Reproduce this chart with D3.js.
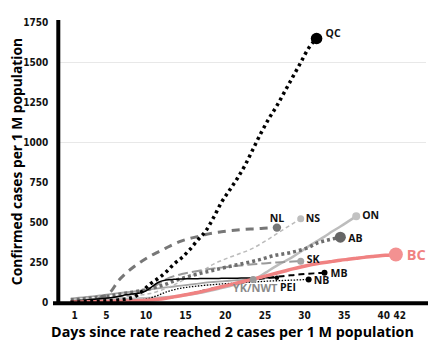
<!DOCTYPE html>
<html><head><meta charset="utf-8">
<script src="https://cdn.jsdelivr.net/npm/d3@7"></script>
<style>
html,body{margin:0;padding:0;background:#fff;}
svg{display:block;}
.tick text{font-family:"Liberation Sans Narrow","DejaVu Sans Condensed","Liberation Sans",sans-serif;font-weight:bold;font-size:10px;fill:#111;}
.lbl{font-family:"Open Sans","Noto Sans",sans-serif;font-weight:bold;}
</style></head>
<body>
<script>
// ---- data (values per day, index = day number starting at 0) ----
const xTicks = [1, 5, 10, 15, 20, 25, 30, 35, 40, 42];
const yTicks = [0, 250, 500, 750, 1000, 1250, 1500, 1750];
const gridValues = [1000, 1500];

const qc  = [2,3,5,7,9,12,16,22,35,70,115,150,190,240,280,330,390,445,530,625,700,775,860,960,1060,1150,1230,1320,1410,1500,1590,1650];
const nl  = [5,8,12,20,35,65,135,185,225,260,290,315,340,365,385,400,412,425,435,442,448,453,457,460,463,466,468];
const ns  = [10,13,16,20,24,28,32,37,42,48,56,70,88,110,135,160,185,210,240,262,282,300,318,340,368,398,430,462,493,523];
const on  = [8,10,12,14,16,18,20,22,24,26,28,30,33,37,43,50,58,67,78,90,102,115,128,142,168,200,230,258,285,318,352,382,412,445,475,507,539];
const ab  = [15,20,25,30,36,42,50,58,66,75,85,100,115,135,150,165,178,190,202,214,225,236,247,258,270,285,297,305,315,328,345,370,385,397,408];
const sk  = [10,14,18,22,27,32,38,45,55,68,85,115,145,165,178,188,197,205,212,218,224,229,234,239,243,247,250,253,256,258];
const bc  = [2,3,4,5,6,7,8,9,10,12,15,20,27,35,44,53,63,74,86,98,110,122,134,146,158,171,184,197,210,222,233,242,250,257,264,270,276,282,287,292,296,300];
const mb  = [2,3,4,5,6,7,8,9,10,12,15,20,27,35,44,54,65,77,89,100,110,120,130,140,148,155,161,166,171,176,180,183,186];
const nb  = [2,3,4,5,6,7,8,10,13,18,28,45,65,80,90,97,103,108,112,116,119,122,125,128,131,134,136,138,140,142,144];
const pei = [8,12,16,20,25,30,38,48,55,62,90,125,140,145,147,148,149,150,150,151,152,152,153,153,154,154,155];
const yk  = [25,30,35,40,46,52,58,64,70,76,82,88,94,100,106,112,118,124,128,132,136,139,142,144];

const provinces = ["ON","YK/NWT","NS","SK","NL","AB","PEI","NB","MB","BC","QC"];
const seriesValues = [on, yk, ns, sk, nl, ab, pei, nb, mb, bc, qc];

// ---- styles (kept apart from the data) ----
const styles = {
  "ON":     {stroke:"#bdbdbd", w:2.5, dash:null,      r:4,   fill:"#c2c2c2", lx:6,  ly:3,   size:10.5, color:"#111", anchor:"start"},
  "YK/NWT": {stroke:"#a5a5a5", w:1.8, dash:null,      r:3.5, fill:"#999",    lx:2,  ly:13,  size:11,   color:"#8a8a8a", anchor:"middle"},
  "NS":     {stroke:"#bbbbbb", w:1.5, dash:"4,3",     r:3.5, fill:"#bdbdbd", lx:5,  ly:3,   size:10.5, color:"#111", anchor:"start"},
  "SK":     {stroke:"#9a9a9a", w:2,   dash:"10,4",    r:3.5, fill:"#a5a5a5", lx:6,  ly:2,   size:10.5, color:"#111", anchor:"start"},
  "NL":     {stroke:"#777777", w:3,   dash:"8,6",     r:4.2, fill:"#777",    lx:0,  ly:-6,  size:10.5, color:"#111", anchor:"middle"},
  "AB":     {stroke:"#6e6e6e", w:3.5, dash:"3,3",     r:5.5, fill:"#666",    lx:8,  ly:4.5, size:10.5, color:"#111", anchor:"start"},
  "PEI":    {stroke:"#000000", w:1.5, dash:null,      r:2.2, fill:"#000",    lx:3,  ly:13,  size:10.5, color:"#111", anchor:"start"},
  "NB":     {stroke:"#000000", w:1.3, dash:"1.5,1.5", r:3,   fill:"#000",    lx:5,  ly:5,   size:10.5, color:"#111", anchor:"start"},
  "MB":     {stroke:"#000000", w:2,   dash:"6,4",     r:3,   fill:"#000",    lx:6,  ly:4,   size:10.5, color:"#111", anchor:"start"},
  "BC":     {stroke:"#f08282", w:3.5, dash:null,      r:7,   fill:"#f39191", lx:11, ly:5,   size:14.5, color:"#f08282", anchor:"start"},
  "QC":     {stroke:"#000000", w:3.5, dash:"3,3.5",   r:5.8, fill:"#000",    lx:9,  ly:-2,  size:10.5, color:"#111", anchor:"start"}
};

const W = 448, H = 360;
const svg = d3.select("body").append("svg").attr("width", W).attr("height", H);

const x = d3.scaleLinear().domain([1, 42]).range([78.7, 403.8]);
const y = d3.scaleLinear().domain([0, 1750]).range([302.5, 22.5]);

// gridlines
svg.append("g").selectAll("line").data(gridValues).join("line")
  .attr("x1", 60).attr("x2", 426)
  .attr("y1", d => y(d)).attr("y2", d => y(d))
  .attr("stroke", "#e8e8e8").attr("stroke-width", 1.2);

// y axis ticks
const yAxis = svg.append("g").attr("transform", "translate(58.3,0)")
  .call(d3.axisLeft(y).tickValues(yTicks).tickSize(0).tickPadding(10).tickFormat(d3.format("d")));
yAxis.select(".domain").remove();

// x axis ticks
const xAxis = svg.append("g").attr("transform", "translate(-4.6,303)")
  .call(d3.axisBottom(x).tickValues(xTicks).tickSize(0).tickPadding(9).tickFormat(d3.format("d")));
xAxis.select(".domain").remove();

// series
const line = d3.line().x((d, i) => x(i)).y(d => y(d)).curve(d3.curveMonotoneX);
const gS = svg.append("g");
provinces.forEach((p, k) => {
  const vals = seriesValues[k];
  const s = styles[p];
  gS.append("path").datum(vals)
    .attr("d", line)
    .attr("fill", "none")
    .attr("stroke", s.stroke)
    .attr("stroke-width", s.w)
    .attr("stroke-dasharray", s.dash)
    .attr("stroke-linejoin", "round");
});
provinces.forEach((p, k) => {
  const vals = seriesValues[k];
  const s = styles[p];
  const last = vals.length - 1;
  gS.append("circle").attr("cx", x(last)).attr("cy", y(vals[last])).attr("r", s.r).attr("fill", s.fill);
  gS.append("text").attr("class", "lbl")
    .attr("x", x(last) + s.lx).attr("y", y(vals[last]) + s.ly)
    .attr("font-size", s.size).attr("fill", s.color)
    .attr("text-anchor", s.anchor)
    .text(p);
});

// axis lines
svg.append("line").attr("x1", 58.3).attr("x2", 58.3).attr("y1", 20).attr("y2", 305)
  .attr("stroke", "#000").attr("stroke-width", 4);
svg.append("line").attr("x1", 53).attr("x2", 428).attr("y1", 303.3).attr("y2", 303.3)
  .attr("stroke", "#000").attr("stroke-width", 4);

// axis titles
svg.append("text").attr("class", "lbl").attr("x", 232.5).attr("y", 337)
  .attr("text-anchor", "middle").attr("font-size", 14.3).attr("fill", "#000")
  .text("Days since rate reached 2 cases per 1 M population");
svg.append("text").attr("class", "lbl")
  .attr("transform", "translate(21.5,161.5) rotate(-90)")
  .attr("text-anchor", "middle").attr("font-size", 13.8).attr("fill", "#000")
  .text("Confirmed cases per 1 M population");
</script>
</body></html>
